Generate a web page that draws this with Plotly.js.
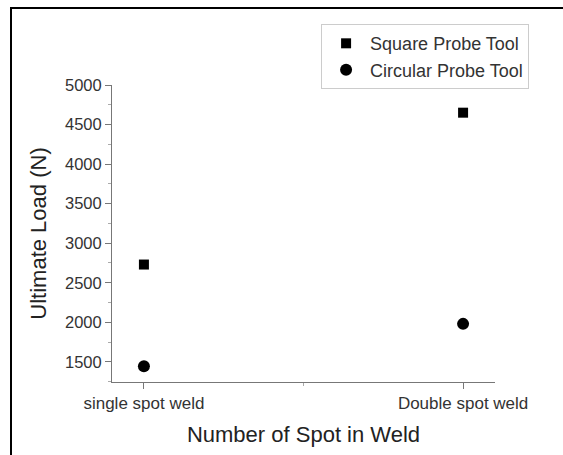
<!DOCTYPE html>
<html>
<head>
<meta charset="utf-8">
<script src="https://cdn.plot.ly/plotly-3.0.1.min.js"></script>
<style>
  html, body { margin: 0; padding: 0; background: #fff; }
  #wrap { position: relative; width: 563px; height: 455px; overflow: hidden; }
  #chart { position: absolute; left: 0; top: 0; width: 563px; height: 455px; }
  #frame { position: absolute; left: 10px; top: 7px; width: 600px; height: 500px;
           border-left: 2px solid #000; border-top: 2px solid #000; pointer-events: none; }
</style>
</head>
<body>
<div id="wrap">
  <div id="chart"></div>
  <div id="frame"></div>
</div>
<script>
// Data
const categories = ["single spot weld", "Double spot weld"];
const squareProbe = [2730, 4650];
const circularProbe = [1445, 1980];
const seriesNames = ["Square Probe Tool", "Circular Probe Tool"];

const xPos = categories.map((c, i) => i + 1);

const traces = [
  {
    x: xPos, y: squareProbe, name: seriesNames[0], type: "scatter", mode: "markers",
    marker: { symbol: "square", size: 10, color: "#000" }
  },
  {
    x: xPos, y: circularProbe, name: seriesNames[1], type: "scatter", mode: "markers",
    marker: { symbol: "circle", size: 12, color: "#000" }
  }
];

const font = "Liberation Sans, Arial, sans-serif";

const layout = {
  width: 563, height: 455,
  margin: { l: 112, r: 68, t: 85, b: 72.5 },
  paper_bgcolor: "#fff", plot_bgcolor: "#fff",
  font: { family: font, color: "#333" },
  showlegend: true,
  legend: {
    x: 1.089, y: 1.205, xanchor: "right", yanchor: "top",
    bgcolor: "#fff", bordercolor: "#ccc", borderwidth: 1,
    font: { size: 18, color: "#333", family: font },
    itemwidth: 38,
    tracegroupgap: 0
  },
  xaxis: {
    range: [0.9, 2.1],
    tickvals: xPos, ticktext: categories,
    showgrid: false, zeroline: false,
    showline: true, linecolor: "#777", linewidth: 1,
    ticks: "outside", ticklen: 6, tickcolor: "#777",
    minor: { dtick: 0.5, tick0: 1, ticks: "outside", ticklen: 3, tickcolor: "#aaa", showgrid: false },
    tickfont: { size: 17, color: "#333" },
    title: { text: "Number of Spot in Weld", font: { size: 22, color: "#222" }, standoff: 14 }
  },
  yaxis: {
    range: [1245, 5000],
    tick0: 1500, dtick: 500,
    showgrid: false, zeroline: false,
    showline: true, linecolor: "#777", linewidth: 1,
    ticks: "outside", ticklen: 6, tickcolor: "#777",
    minor: { dtick: 250, ticks: "outside", ticklen: 3, tickcolor: "#aaa", showgrid: false },
    tickfont: { size: 16.5, color: "#333" },
    title: { text: "Ultimate Load (N)", font: { size: 22, color: "#222" }, standoff: 12 }
  }
};

Plotly.newPlot("chart", traces, layout, { displayModeBar: false, staticPlot: true });
</script>
</body>
</html>
